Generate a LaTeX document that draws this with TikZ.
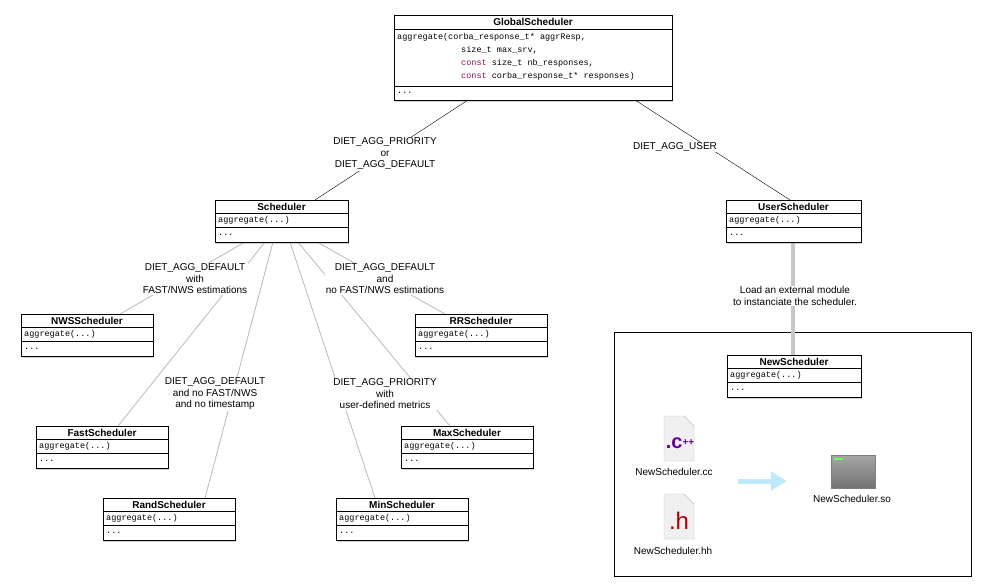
\documentclass[tikz,border=0pt]{standalone}
\usepackage{fontspec}
\setmainfont{Liberation Sans}
\setmonofont{Liberation Mono}
\usetikzlibrary{shadows,arrows.meta}
\definecolor{kw}{RGB}{130,20,90}
\begin{document}
\begin{tikzpicture}[x=1pt,y=-1pt,
 box/.style={draw,thick,fill=white,drop shadow={opacity=0.35,shadow xshift=1pt,shadow yshift=-2pt}},
 ttl/.style={font=\fontsize{10}{11}\selectfont\bfseries,inner sep=0},
 mono/.style={font=\fontsize{8.5}{10}\ttfamily\selectfont,inner sep=0,anchor=west,align=left},
 lbl/.style={font=\fontsize{10}{11.5}\selectfont,fill=white,inner sep=1pt,align=center},
 gl/.style={draw=gray!55,line width=0.8pt}]
\useasboundingbox (0,0) rectangle (982,586);
\newcommand{\cbox}[6]{% name, x1,y1,x2,y2,title
 \draw[box] (#2,#3) rectangle (#4,#5);
 \draw[thick] (#2,#3+13) -- (#4,#3+13);
 \draw[thick] (#2,#3+27) -- (#4,#3+27);
 \node[ttl] (#1) at ({(#2+#4)/2},#3+7) {#6};
 \node[mono] (#1m) at (#2+3,#3+20) {aggregate(...)};
 \node[mono] (#1d) at (#2+3,#3+35) {...};
 \coordinate (#1t) at ({(#2+#4)/2},#3);
 \coordinate (#1b) at ({(#2+#4)/2},#5);}
% global
\draw[box] (394,15) rectangle (672,100);
\draw[thick] (394,29)--(672,29);
\draw[thick] (394,86)--(672,86);
\node[ttl] (gs) at (533,22) {GlobalScheduler};
\node[mono] (gsm) at (397,37) {aggregate(corba\_response\_t* aggrResp,};
\node[mono] (gsm2) at (461,50) {size\_t max\_srv,};
\node[mono] (gsm3) at (461,63) {\textcolor{kw}{const} size\_t nb\_responses,};
\node[mono] (gsm4) at (461,76) {\textcolor{kw}{const} corba\_response\_t* responses)};
\node[mono] (gsd) at (397,93) {...};
\coordinate (gsl) at (468,100); \coordinate (gsr) at (635,100);
% big frame
\draw (614,332) rectangle (971,576);
% top connectors
\coordinate (s1) at (315,200); \coordinate (u1) at (790,200);
\draw (gsl) -- (s1);
\draw (gsr) -- (u1);
\node[lbl] (l1) at (385,154) {DIET\_AGG\_PRIORITY\\or\\DIET\_AGG\_DEFAULT};
\node[lbl] (l2) at (675,147) {DIET\_AGG\_USER};
% scheduler children
\coordinate (c1) at (245,242); \coordinate (c2) at (265,242); \coordinate (c3) at (273,242);
\coordinate (c4) at (290,242); \coordinate (c5) at (298,242); \coordinate (c6) at (317,242);
\coordinate (e1) at (120,314); \coordinate (e2) at (118,426); \coordinate (e3) at (205,498);
\coordinate (e4) at (375,498); \coordinate (e5) at (450,426); \coordinate (e6) at (445,314);
\draw[gl] (c1)--(e1); \draw[gl] (c2)--(e2); \draw[gl] (c3)--(e3);
\draw[gl] (c4)--(e4); \draw[gl] (c5)--(e5); \draw[gl] (c6)--(e6);
\node[lbl] (l3) at (195,279) {DIET\_AGG\_DEFAULT\\with\\FAST/NWS estimations};
\node[lbl] (l4) at (385,279) {DIET\_AGG\_DEFAULT\\and\\no FAST/NWS estimations};
\node[lbl] (l5) at (215,394) {DIET\_AGG\_DEFAULT\\and no FAST/NWS\\and no timestamp};
\node[lbl] (l6) at (385,394) {DIET\_AGG\_PRIORITY\\with\\user-defined metrics};
\cbox{nws}{21}{314}{153}{356}{NWSScheduler}
\cbox{rr}{415}{314}{547}{356}{RRScheduler}
\cbox{fast}{36}{426}{168}{468}{FastScheduler}
\cbox{max}{401}{426}{533}{468}{MaxScheduler}
\cbox{rand}{103}{498}{235}{540}{RandScheduler}
\cbox{min}{336}{498}{468}{540}{MinScheduler}
\cbox{sch}{215}{200}{348}{242}{Scheduler}
% user -> new
\coordinate (ub) at (793,242); \coordinate (nt) at (793,355);
\draw[draw=gray!45,line width=4pt] (ub) -- (nt);
\node[lbl] (l7) at (795,296) {Load an external module\\to instanciate the scheduler.};
\cbox{us}{726}{200}{861}{242}{UserScheduler}
\cbox{new}{727}{355}{861}{397}{NewScheduler}
% file icons
\fill[gray!12,draw=gray!50] (664,416) -- (684,416) -- (694,426) -- (694,461) -- (664,461) -- cycle;
\node[text=violet!80!blue,font=\bfseries\fontsize{20}{20}\selectfont,inner sep=0] (cpp) at (680,443) {.c\raisebox{3pt}{\fontsize{10}{10}\selectfont ++}};
\node[font=\fontsize{10}{11}\selectfont,inner sep=0] (ccl) at (674,472) {NewScheduler.cc};
\fill[gray!12,draw=gray!50] (664,494) -- (684,494) -- (694,504) -- (694,539) -- (664,539) -- cycle;
\node[text=red!70!black,font=\fontsize{24}{24}\selectfont,inner sep=0] (hh) at (679,521) {.h};
\node[font=\fontsize{10}{11}\selectfont,inner sep=0] (hhl) at (673,551) {NewScheduler.hh};
\shade[top color=gray!70,bottom color=gray!90!black,draw=gray] (831,455) rectangle (875,488);
\fill[green!60] (834,458) rectangle (843,459.5);
\node[font=\fontsize{10}{11}\selectfont,inner sep=0] (sol) at (852,499) {NewScheduler.so};
\coordinate (a1) at (738,481); \coordinate (a2) at (787,481);
\draw[cyan!25,line width=5pt,-{Triangle[width=18pt,length=16pt]}] (a1) -- (a2);
\end{tikzpicture}
\end{document}
